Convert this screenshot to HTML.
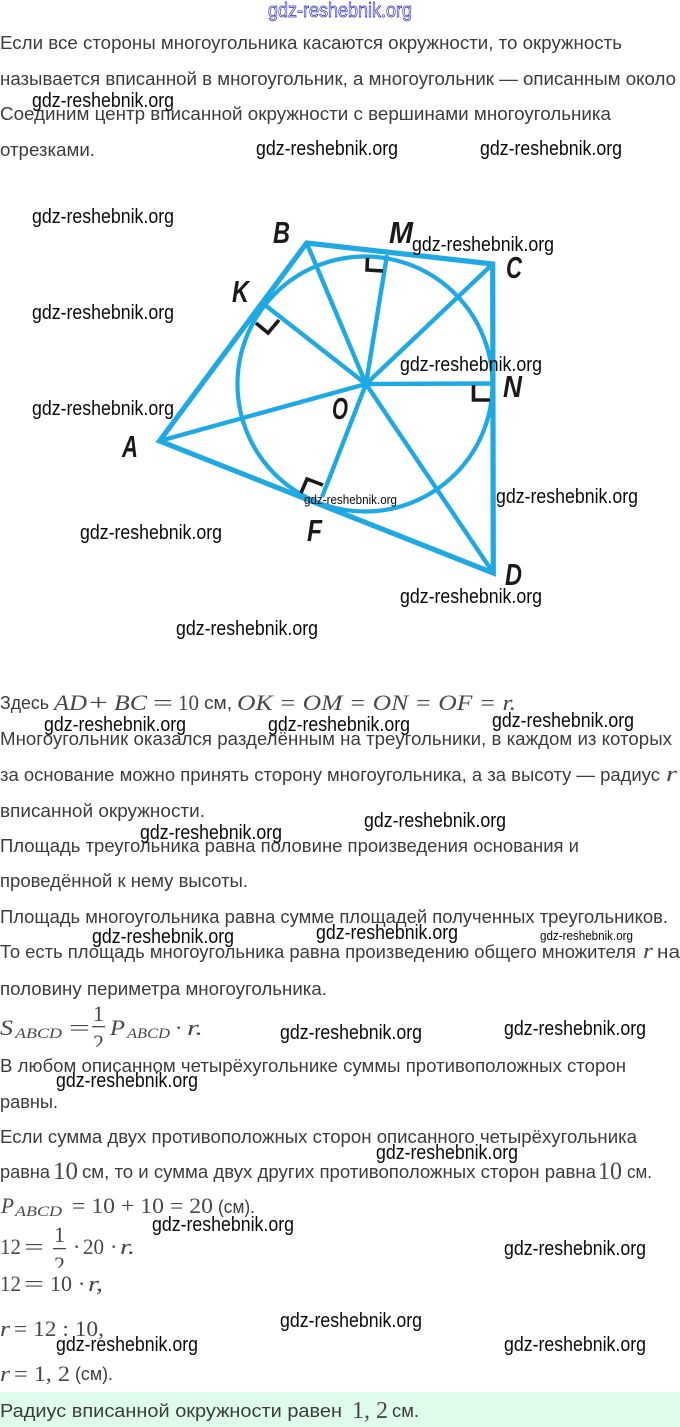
<!DOCTYPE html>
<html lang="ru"><head><meta charset="utf-8"><title>gdz-reshebnik.org</title>
<style>
html,body{margin:0;padding:0;background:#fff;width:680px;height:1427px;overflow:hidden}
svg{display:block}
.t{font:18.5px "Liberation Sans",sans-serif;fill:#3c3c3c}
.m{font:italic 22px "Liberation Serif",serif;fill:#484848}
.s{font:italic 15px "Liberation Serif",serif;fill:#484848}
.n{font:22px "Liberation Serif",serif;fill:#484848}
.w{font:20.5px "Liberation Sans",sans-serif;fill:#0a0a0a}
.l{font:italic bold 31px "Liberation Sans",sans-serif;fill:#1a1a1a}
</style></head><body>
<svg width="680" height="1427" viewBox="0 0 680 1427" xmlns="http://www.w3.org/2000/svg">
<rect width="680" height="1427" fill="#fff"/>
<rect y="1392" width="680" height="35" fill="#dffbea"/>

<g fill="none" stroke="#1ea8e4">
<circle cx="365" cy="384" r="127.500" stroke-width="4.200"/>
<path d="M159.500 441 306.700 243 492.700 264 493.300 573Z" stroke-width="5.200" stroke-linejoin="miter"/>
<path d="M159.500 441 366 384M306.700 243 366 384M492.700 264 366 384M493.300 573 366 384M265 305 366 384M387 255 366 384M493 383.500 366 384M322 497 366 384" stroke-width="4.400"/>
</g>
<g fill="none" stroke="#1a1a1a" stroke-width="3.600">
<path d="M367.500 258 367 270 383 271"/>
<path d="M256 323 268 333 279 320"/>
<path d="M473.500 385 473.500 400 490 400"/>
<path d="M301 493 307 479 323 485"/>
</g>
<g class="l">
<text x="273" y="243" textLength="17" lengthAdjust="spacingAndGlyphs">B</text>
<text x="389" y="243" textLength="24" lengthAdjust="spacingAndGlyphs">M</text>
<text x="506" y="278" textLength="16" lengthAdjust="spacingAndGlyphs">C</text>
<text x="232" y="302" textLength="17" lengthAdjust="spacingAndGlyphs">K</text>
<text x="503" y="397" textLength="19" lengthAdjust="spacingAndGlyphs">N</text>
<text x="332" y="419" textLength="16" lengthAdjust="spacingAndGlyphs">O</text>
<text x="122" y="457" textLength="16" lengthAdjust="spacingAndGlyphs">A</text>
<text x="307" y="541" textLength="15" lengthAdjust="spacingAndGlyphs">F</text>
<text x="505" y="585" textLength="17" lengthAdjust="spacingAndGlyphs">D</text>
</g>

<g class="t">
<text y="49" textLength="622" lengthAdjust="spacingAndGlyphs">Если все стороны многоугольника касаются окружности, то окружность</text>
<text y="85" textLength="676" lengthAdjust="spacingAndGlyphs">называется вписанной в многоугольник, а многоугольник — описанным около</text>
<text y="120" textLength="611" lengthAdjust="spacingAndGlyphs">Соединим центр вписанной окружности с вершинами многоугольника</text>
<text y="156" textLength="95" lengthAdjust="spacingAndGlyphs">отрезками.</text>
<text y="709" textLength="49" lengthAdjust="spacingAndGlyphs">Здесь</text>
<text x="204" y="709" textLength="28" lengthAdjust="spacingAndGlyphs">см,</text>
<text y="745" textLength="672" lengthAdjust="spacingAndGlyphs">Многоугольник оказался разделённым на треугольники, в каждом из которых</text>
<text y="781" textLength="660" lengthAdjust="spacingAndGlyphs">за основание можно принять сторону многоугольника, а за высоту — радиус</text>
<text y="817" textLength="205" lengthAdjust="spacingAndGlyphs">вписанной окружности.</text>
<text y="852" textLength="579" lengthAdjust="spacingAndGlyphs">Площадь треугольника равна половине произведения основания и</text>
<text y="887" textLength="248" lengthAdjust="spacingAndGlyphs">проведённой к нему высоты.</text>
<text y="923" textLength="668" lengthAdjust="spacingAndGlyphs">Площадь многоугольника равна сумме площадей полученных треугольников.</text>
<text y="958" textLength="636" lengthAdjust="spacingAndGlyphs">То есть площадь многоугольника равна произведению общего множителя</text>
<text x="657" y="958" textLength="23" lengthAdjust="spacingAndGlyphs">на</text>
<text y="995" textLength="327" lengthAdjust="spacingAndGlyphs">половину периметра многоугольника.</text>
<text y="1072" textLength="626" lengthAdjust="spacingAndGlyphs">В любом описанном четырёхугольнике суммы противоположных сторон</text>
<text y="1108" textLength="58" lengthAdjust="spacingAndGlyphs">равны.</text>
<text y="1143" textLength="637" lengthAdjust="spacingAndGlyphs">Если сумма двух противоположных сторон описанного четырёхугольника</text>
<text y="1178" textLength="50" lengthAdjust="spacingAndGlyphs">равна</text>
<text x="82" y="1178" textLength="514" lengthAdjust="spacingAndGlyphs">см, то и сумма двух других противоположных сторон равна</text>
<text x="627" y="1178" textLength="25" lengthAdjust="spacingAndGlyphs">см.</text>
<text x="218" y="1213" textLength="37" lengthAdjust="spacingAndGlyphs">(см).</text>
<text x="75" y="1380" textLength="38" lengthAdjust="spacingAndGlyphs">(см).</text>
<text y="1417" textLength="342" lengthAdjust="spacingAndGlyphs">Радиус вписанной окружности равен</text>
<text x="392" y="1417" textLength="27" lengthAdjust="spacingAndGlyphs">см.</text>
</g>

<text class="m" x="54" y="710" textLength="33" lengthAdjust="spacingAndGlyphs">AD</text>
<text class="n" x="89" y="710" textLength="19" lengthAdjust="spacingAndGlyphs">+</text>
<text class="m" x="114" y="710" textLength="33" lengthAdjust="spacingAndGlyphs">BC</text>
<text class="n" x="153" y="710" textLength="20" lengthAdjust="spacingAndGlyphs">=</text>
<text class="n" x="178" y="710" textLength="21" lengthAdjust="spacingAndGlyphs">10</text>
<text class="m" x="237" y="710" textLength="279" lengthAdjust="spacingAndGlyphs">OK = OM = ON = OF = r.</text>
<text class="m" x="666" y="781" textLength="11" lengthAdjust="spacingAndGlyphs">r</text>
<text class="m" x="643" y="958" textLength="10" lengthAdjust="spacingAndGlyphs">r</text>

<text class="m" x="0" y="1035" textLength="13" lengthAdjust="spacingAndGlyphs">S</text>
<text class="s" x="15" y="1038" textLength="47" lengthAdjust="spacingAndGlyphs">ABCD</text>
<text class="n" x="69" y="1035" textLength="21" lengthAdjust="spacingAndGlyphs">=</text>
<text class="n" x="93" y="1021" textLength="11" lengthAdjust="spacingAndGlyphs">1</text>
<rect x="92" y="1026" width="13" height="1.300" fill="#484848"/>
<text class="n" x="93" y="1050" textLength="11" lengthAdjust="spacingAndGlyphs">2</text>
<rect x="88" y="1047" width="20" height="8" fill="#fff"/>
<text class="m" x="110" y="1035" textLength="15" lengthAdjust="spacingAndGlyphs">P</text>
<text class="s" x="127" y="1038" textLength="43" lengthAdjust="spacingAndGlyphs">ABCD</text>
<text class="n" x="175" y="1035">·</text>
<text class="m" x="187" y="1035" textLength="16" lengthAdjust="spacingAndGlyphs">r.</text>

<text class="n" x="53" y="1179" style="font-size:25px" textLength="25" lengthAdjust="spacingAndGlyphs">10</text>
<text class="n" x="598" y="1179" style="font-size:25px" textLength="24" lengthAdjust="spacingAndGlyphs">10</text>

<text class="m" x="1" y="1213" textLength="13" lengthAdjust="spacingAndGlyphs">P</text>
<text class="s" x="15" y="1216" textLength="47" lengthAdjust="spacingAndGlyphs">ABCD</text>
<text class="n" x="72" y="1213" textLength="141" lengthAdjust="spacingAndGlyphs">= 10 + 10 = 20</text>

<text class="n" x="0" y="1254" textLength="21" lengthAdjust="spacingAndGlyphs">12</text>
<text class="n" x="24" y="1254" textLength="20" lengthAdjust="spacingAndGlyphs">=</text>
<text class="n" x="54" y="1242" textLength="11" lengthAdjust="spacingAndGlyphs">1</text>
<rect x="53" y="1248" width="13" height="1.300" fill="#484848"/>
<text class="n" x="54" y="1272" textLength="11" lengthAdjust="spacingAndGlyphs">2</text>
<rect x="48" y="1268" width="22" height="8" fill="#fff"/>
<text class="n" x="73" y="1254">·</text>
<text class="n" x="83" y="1254" textLength="21" lengthAdjust="spacingAndGlyphs">20</text>
<text class="n" x="110" y="1254">·</text>
<text class="m" x="120" y="1254" textLength="15" lengthAdjust="spacingAndGlyphs">r.</text>

<text class="n" x="0" y="1291" textLength="21" lengthAdjust="spacingAndGlyphs">12</text>
<text class="n" x="24" y="1291" textLength="20" lengthAdjust="spacingAndGlyphs">=</text>
<text class="n" x="50" y="1291" textLength="22" lengthAdjust="spacingAndGlyphs">10</text>
<text class="n" x="78" y="1291">·</text>
<text class="m" x="88" y="1291" textLength="15" lengthAdjust="spacingAndGlyphs">r,</text>
<text class="m" x="0" y="1336" textLength="10" lengthAdjust="spacingAndGlyphs">r</text>
<text class="n" x="14" y="1336" textLength="90" lengthAdjust="spacingAndGlyphs">= 12 : 10,</text>
<text class="m" x="0" y="1381" textLength="10" lengthAdjust="spacingAndGlyphs">r</text>
<text class="n" x="14" y="1381" textLength="56" lengthAdjust="spacingAndGlyphs">= 1, 2</text>
<text class="n" x="352" y="1418" style="font-size:24px" textLength="36" lengthAdjust="spacingAndGlyphs">1, 2</text>

<text x="268" y="17" textLength="144" lengthAdjust="spacingAndGlyphs" style="font:20px 'Liberation Sans',sans-serif;fill:#fff;stroke:#2a2ad0;stroke-width:.7">gdz-reshebnik.org</text>

<g class="w" transform="translate(0 1)">
<text x="32" y="106" textLength="142" lengthAdjust="spacingAndGlyphs">gdz-reshebnik.org</text>
<text x="256" y="154" textLength="142" lengthAdjust="spacingAndGlyphs">gdz-reshebnik.org</text>
<text x="480" y="154" textLength="142" lengthAdjust="spacingAndGlyphs">gdz-reshebnik.org</text>
<text x="32" y="222" textLength="142" lengthAdjust="spacingAndGlyphs">gdz-reshebnik.org</text>
<text x="412" y="250" textLength="142" lengthAdjust="spacingAndGlyphs">gdz-reshebnik.org</text>
<text x="32" y="318" textLength="142" lengthAdjust="spacingAndGlyphs">gdz-reshebnik.org</text>
<text x="400" y="370" textLength="142" lengthAdjust="spacingAndGlyphs">gdz-reshebnik.org</text>
<text x="32" y="414" textLength="142" lengthAdjust="spacingAndGlyphs">gdz-reshebnik.org</text>
<text x="496" y="502" textLength="142" lengthAdjust="spacingAndGlyphs">gdz-reshebnik.org</text>
<text x="304" y="503" textLength="93" lengthAdjust="spacingAndGlyphs" style="font-size:13px">gdz-reshebnik.org</text>
<text x="80" y="538" textLength="142" lengthAdjust="spacingAndGlyphs">gdz-reshebnik.org</text>
<text x="400" y="602" textLength="142" lengthAdjust="spacingAndGlyphs">gdz-reshebnik.org</text>
<text x="176" y="634" textLength="142" lengthAdjust="spacingAndGlyphs">gdz-reshebnik.org</text>
<text x="44" y="730" textLength="142" lengthAdjust="spacingAndGlyphs">gdz-reshebnik.org</text>
<text x="268" y="730" textLength="142" lengthAdjust="spacingAndGlyphs">gdz-reshebnik.org</text>
<text x="492" y="726" textLength="142" lengthAdjust="spacingAndGlyphs">gdz-reshebnik.org</text>
<text x="140" y="838" textLength="142" lengthAdjust="spacingAndGlyphs">gdz-reshebnik.org</text>
<text x="364" y="826" textLength="142" lengthAdjust="spacingAndGlyphs">gdz-reshebnik.org</text>
<text x="92" y="942" textLength="142" lengthAdjust="spacingAndGlyphs">gdz-reshebnik.org</text>
<text x="316" y="938" textLength="142" lengthAdjust="spacingAndGlyphs">gdz-reshebnik.org</text>
<text x="540" y="939" textLength="93" lengthAdjust="spacingAndGlyphs" style="font-size:13px">gdz-reshebnik.org</text>
<text x="280" y="1038" textLength="142" lengthAdjust="spacingAndGlyphs">gdz-reshebnik.org</text>
<text x="504" y="1034" textLength="142" lengthAdjust="spacingAndGlyphs">gdz-reshebnik.org</text>
<text x="56" y="1086" textLength="142" lengthAdjust="spacingAndGlyphs">gdz-reshebnik.org</text>
<text x="376" y="1158" textLength="142" lengthAdjust="spacingAndGlyphs">gdz-reshebnik.org</text>
<text x="152" y="1230" textLength="142" lengthAdjust="spacingAndGlyphs">gdz-reshebnik.org</text>
<text x="504" y="1254" textLength="142" lengthAdjust="spacingAndGlyphs">gdz-reshebnik.org</text>
<text x="280" y="1326" textLength="142" lengthAdjust="spacingAndGlyphs">gdz-reshebnik.org</text>
<text x="56" y="1350" textLength="142" lengthAdjust="spacingAndGlyphs">gdz-reshebnik.org</text>
<text x="504" y="1350" textLength="142" lengthAdjust="spacingAndGlyphs">gdz-reshebnik.org</text>
</g>
</svg>
</body></html>
